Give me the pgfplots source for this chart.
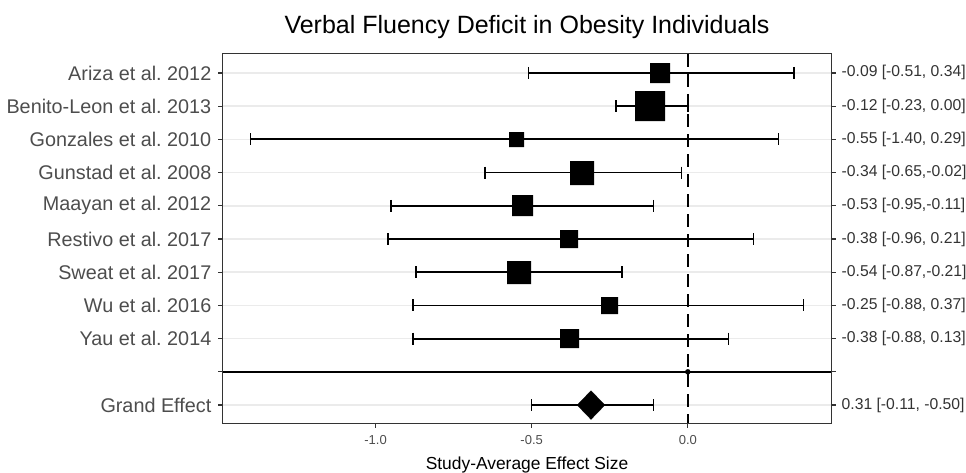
\documentclass[border=0pt]{standalone}
\usepackage{pgfplots}
\pgfplotsset{compat=1.18}
\usepackage{pgfplotstable}
\usepackage{fontspec}
\setmainfont{Liberation Sans}
\definecolor{g30}{HTML}{4D4D4D}
\definecolor{g20}{HTML}{333333}
\definecolor{gridc}{HTML}{EBEBEB}

\pgfplotstableread{
y est lo hi s
10 -0.09 -0.51 0.34 10
9 -0.12 -0.23 0.00 15
8 -0.55 -1.40 0.29 7.5
7 -0.34 -0.65 -0.02 12
6 -0.53 -0.95 -0.11 10.3
5 -0.38 -0.96 0.21 8.8
4 -0.54 -0.87 -0.21 11.7
3 -0.25 -0.88 0.37 8.6
2 -0.38 -0.88 0.13 9.6
}\studies

\pgfplotstableread{
y est lo hi
0 -0.31 -0.50 -0.11
}\grand

\begin{document}
\frenchspacing
\begin{tikzpicture}
\begin{axis}[
  name=ax,
  scale only axis, width=608pt, height=369pt,
  xmin=-1.4885, xmax=0.4585, ymin=-0.54, ymax=10.57,
  clip=false,
  axis line style={g20, line width=1pt},
  xtick={-1,-0.5,0}, xticklabels={-1.0,-0.5,0.0},
  ytick={0,1,2,3,4,5,6,7,8,9,10},
  yticklabels={Grand Effect,{},Yau et al. 2014,Wu et al. 2016,Sweat et al. 2017,Restivo et al. 2017,Maayan et al. 2012,Gunstad et al. 2008,Gonzales et al. 2010,Benito-Leon et al. 2013,Ariza et al. 2012},
  xtick pos=left, ytick pos=left,
  tick align=outside, major tick length=4.5pt,
  tick style={g20, line width=1.2pt},
  ymajorgrids, grid style={gridc, line width=1.5pt},
  yticklabel style={font=\fontsize{19.8}{20}\selectfont, text=g30, inner sep=1pt, xshift=-6pt},
  xticklabel style={font=\fontsize{13}{14}\selectfont, text=g30, yshift=-4pt},
  whisker/.style={black, line width=1.8pt, mark=|, mark size=6pt, mark options={line width=1.6pt}},
]
\addplot[black, line width=1.6pt] coordinates {(-1.4885,1) (0.4585,1)};
\addplot[black, line width=2pt, dash pattern=on 13pt off 7pt] coordinates {(0,10.57) (0,-0.54)};
\addplot[only marks, mark=*, mark size=2.5pt, black] coordinates {(0,1)};
% whiskers: (lower,row) (upper,row)
\addplot[whisker] coordinates {(-0.51,10) (0.34,10)};
\addplot[whisker] coordinates {(-0.23,9) (0.00,9)};
\addplot[whisker] coordinates {(-1.40,8) (0.29,8)};
\addplot[whisker] coordinates {(-0.65,7) (-0.02,7)};
\addplot[whisker] coordinates {(-0.95,6) (-0.11,6)};
\addplot[whisker] coordinates {(-0.96,5) (0.21,5)};
\addplot[whisker] coordinates {(-0.87,4) (-0.21,4)};
\addplot[whisker] coordinates {(-0.88,3) (0.37,3)};
\addplot[whisker] coordinates {(-0.88,2) (0.13,2)};
\addplot[whisker] coordinates {(-0.50,0) (-0.11,0)};
\addplot[scatter, only marks, mark=square*, line width=0.01pt,
  scatter/use mapped color={draw=black, fill=black},
  visualization depends on={\thisrow{s} \as \perpointmarksize},
  scatter/@pre marker code/.append style={/tikz/mark size=\perpointmarksize}]
  table[x=est, y=y] {\studies};
\addplot[only marks, mark=diamond*, mark size=14.5,
  mark options={xscale=1.29, fill=black, draw=black, line width=0.01pt}]
  table[x=est, y=y] {\grand};
\coordinate (SW) at (rel axis cs:0,0);
\node[anchor=base, font=\fontsize{25}{26}\selectfont] at (rel axis cs:0.5,1) [yshift=20pt] {Verbal Fluency Deficit in Obesity Individuals};
\node[anchor=base, font=\fontsize{17.4}{18}\selectfont] at (rel axis cs:0.5,0) [yshift=-46pt] {Study-Average Effect Size};
\end{axis}
\begin{axis}[
  scale only axis, width=608pt, height=369pt,
  xmin=-1.4885, xmax=0.4585, ymin=-0.54, ymax=10.57,
  hide x axis,
  axis y line*=right,
  axis line style={g20, line width=1pt},
  ytick={0,1,2,3,4,5,6,7,8,9,10},
  yticklabels={{0.31 [-0.11, -0.50]},{},{-0.38 [-0.88, 0.13]},{-0.25 [-0.88, 0.37]},{-0.54 [-0.87,-0.21]},{-0.38 [-0.96, 0.21]},{-0.53 [-0.95,-0.11]},{-0.34 [-0.65,-0.02]},{-0.55 [-1.40, 0.29]},{-0.12 [-0.23, 0.00]},{-0.09 [-0.51, 0.34]}},
  tick align=outside, major tick length=4.5pt,
  tick style={g20, line width=1.2pt},
  yticklabel style={font=\fontsize{15.7}{16}\selectfont, text=g20, inner sep=1pt, xshift=5pt},
]
\addplot[draw=none] coordinates {(0,0)};
\end{axis}
\pgfresetboundingbox
\useasboundingbox (SW) ++(-223pt,-49pt) rectangle ++(966pt,472pt);
\end{tikzpicture}
\end{document}
